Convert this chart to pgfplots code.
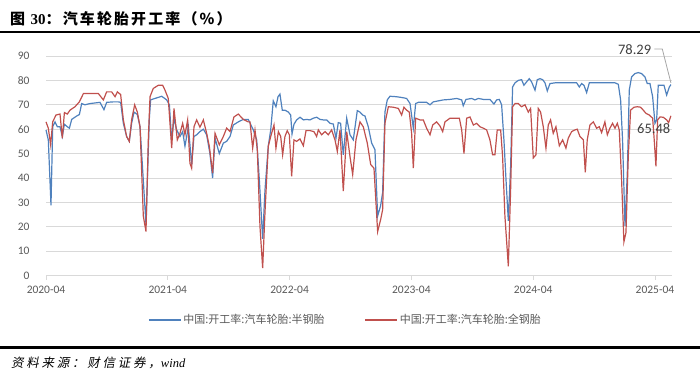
\documentclass[border=0pt]{standalone}
\usepackage{pgfplots}
\pgfplotsset{compat=1.18}
\usepackage{pgfplotstable}
\usepackage{fontspec}
\setmainfont{Carlito}
\newfontfamily\cjk{Noto Sans CJK SC}
\newfontfamily\cjktitle[LetterSpace=14]{Noto Sans CJK SC}
\newfontfamily\cjkit[FakeSlant=0.2,LetterSpace=22]{Noto Sans CJK SC}
\newfontfamily\serif{Liberation Serif}
\definecolor{sblue}{HTML}{4F81BD}
\definecolor{sred}{HTML}{C0504D}
\definecolor{gridc}{HTML}{D9D9D9}
\definecolor{tickc}{HTML}{595959}
\definecolor{labc}{HTML}{404040}

\pgfplotstableread{
x y
0.000 59.7
0.019 55.6
0.041 28.8
0.055 61
0.074 63
0.093 61
0.115 61
0.134 57
0.151 62
0.175 61
0.192 60.4
0.211 64
0.252 65.4
0.274 66
0.293 70.5
0.320 70
0.361 70.5
0.443 71
0.476 68
0.498 71
0.553 71.2
0.594 71.2
0.613 71
0.635 62.4
0.662 57
0.684 55
0.703 62.4
0.723 67
0.750 66
0.772 61
0.799 39
0.821 21
0.848 64
0.859 72
0.895 72.6
0.950 73.5
0.991 72
1.013 70
1.032 55.6
1.051 64.4
1.073 59.7
1.100 57
1.122 59
1.141 53
1.169 61
1.196 45.5
1.215 57
1.237 57.7
1.264 59
1.292 60
1.319 57.7
1.346 50
1.368 40
1.388 56.3
1.423 50
1.456 54.3
1.483 55
1.511 57
1.538 61.7
1.579 63
1.620 64
1.661 64
1.702 59.7
1.730 55.6
1.752 39
1.779 15
1.798 35
1.825 53
1.845 59.7
1.866 71.6
1.888 69.2
1.905 73.3
1.921 74.4
1.940 67.8
1.962 67.8
1.990 67
2.009 65.8
2.020 58
2.036 62
2.058 63.8
2.086 64.9
2.113 63.8
2.140 64
2.168 63.8
2.195 64.5
2.223 64.9
2.250 64
2.277 63.8
2.305 63.8
2.332 62.4
2.359 62.1
2.381 56.3
2.400 62.7
2.419 62.4
2.441 49.5
2.469 64.5
2.496 57.7
2.523 55.6
2.556 67.6
2.578 67
2.600 65.8
2.619 65.4
2.646 61
2.674 54.3
2.701 51.6
2.723 24.4
2.747 28.5
2.764 34
2.783 67
2.802 72
2.824 73.5
2.879 73.3
2.920 73
2.961 72.6
2.989 70.5
3.016 60.4
3.035 70.5
3.057 71
3.098 71
3.125 71
3.153 70
3.180 71.2
3.221 71.6
3.262 72
3.317 72.2
3.372 72.6
3.413 72
3.426 69.6
3.448 72.2
3.495 72.6
3.522 72
3.550 72.6
3.591 72.2
3.645 72.2
3.678 70.3
3.700 72
3.722 72.2
3.741 70
3.760 55.6
3.777 39.3
3.796 22.4
3.815 44.8
3.831 77.3
3.851 79
3.878 80
3.905 80.3
3.924 78
3.946 79.4
3.968 80.7
3.987 79.4
4.015 76
4.034 80.3
4.056 80.7
4.078 80.3
4.097 79
4.116 75.7
4.138 78.7
4.179 79
4.234 79
4.288 79
4.357 79
4.379 77.3
4.398 78.7
4.417 78
4.439 75
4.461 79
4.507 79
4.562 79
4.630 79
4.672 79
4.699 78.4
4.718 72
4.734 55.6
4.754 20.4
4.773 42
4.789 76
4.808 81.4
4.836 82.8
4.863 83.2
4.890 82.8
4.918 81.4
4.937 78.7
4.959 78.7
4.981 73.3
5.000 62.4
5.014 63.8
5.027 78
5.055 78
5.074 78
5.096 74
5.118 77.3
5.131 78.29
}\semisteel

\pgfplotstableread{
x y
0.000 63
0.019 60.4
0.038 53.6
0.055 63
0.082 65.8
0.115 66.2
0.134 56.3
0.151 66.8
0.175 66.2
0.197 67.8
0.238 69.2
0.274 71.2
0.307 74.6
0.361 74.6
0.430 74.6
0.471 72
0.498 75.3
0.539 75.3
0.567 73.3
0.586 75.3
0.613 74.2
0.635 63.8
0.662 57
0.684 55
0.703 63.8
0.728 70
0.750 67
0.772 61
0.799 24.4
0.821 18
0.840 55.6
0.854 73.3
0.881 76.7
0.922 78
0.958 78
0.977 76
1.004 72.6
1.032 52.2
1.051 68.5
1.078 55.6
1.100 58.3
1.122 62.4
1.141 57.7
1.163 63.8
1.182 46
1.196 44
1.215 61
1.237 63.8
1.264 60.8
1.292 63.8
1.319 58.3
1.341 53
1.368 42
1.388 58.3
1.423 53.6
1.456 57
1.483 60.4
1.511 59
1.543 65
1.579 66.2
1.620 64
1.661 63
1.675 63
1.697 52.2
1.716 59.7
1.735 51.6
1.757 20
1.779 3
1.798 25.8
1.825 53
1.845 57
1.872 61.7
1.888 52.2
1.908 59
1.927 57
1.943 49.5
1.962 57
1.981 59.4
1.998 57.7
2.017 40.7
2.036 55.6
2.058 55
2.085 56
2.113 53.2
2.135 59.4
2.168 59.4
2.200 59
2.222 57
2.236 59.7
2.263 57.7
2.291 59
2.318 57.7
2.345 59.7
2.373 55.6
2.392 50.9
2.414 59.7
2.441 34.6
2.469 59
2.496 48.8
2.518 41.4
2.545 55.6
2.578 63
2.605 61
2.638 54.3
2.666 45.5
2.693 44
2.723 18
2.748 23
2.764 27
2.783 62.4
2.811 69.2
2.852 69
2.893 68.5
2.920 65.8
2.939 69
2.961 67.8
2.983 67
3.002 58.3
3.016 44
3.035 64.5
3.071 63.8
3.098 63.8
3.125 60.4
3.153 57.7
3.175 61.7
3.207 63
3.235 61.3
3.257 59
3.276 63
3.317 64.5
3.358 64.5
3.394 64.5
3.413 59.7
3.432 50
3.454 64.5
3.481 65
3.509 61.7
3.536 62.4
3.563 61
3.591 60.4
3.618 59.7
3.645 55.6
3.667 49.5
3.686 49.5
3.705 59.7
3.733 59.7
3.749 48.8
3.768 24.4
3.796 3.8
3.815 35.3
3.831 69.2
3.851 70.5
3.878 70.5
3.905 69.2
3.933 70
3.960 67
3.979 68.5
4.001 48.2
4.023 49.5
4.042 68.5
4.061 67
4.083 61
4.105 52.2
4.124 61.7
4.143 63.8
4.165 58.3
4.187 61
4.215 53.2
4.242 55.6
4.269 52.2
4.288 56.3
4.316 59
4.343 59.7
4.362 60
4.384 57
4.412 55.6
4.428 42.3
4.444 55.6
4.466 61.7
4.494 63
4.521 60.4
4.543 61
4.562 58.6
4.589 63
4.609 57.7
4.630 60.4
4.652 62.4
4.672 60.4
4.691 62.4
4.707 59.7
4.726 39.3
4.745 13.8
4.762 17.6
4.781 48.8
4.800 67.8
4.828 69
4.855 69.2
4.882 69
4.904 67.8
4.926 66.5
4.953 65.8
4.981 64.5
4.994 55.6
5.008 44.8
5.022 63.8
5.041 65
5.068 64.9
5.096 63.8
5.112 62.7
5.131 65.48
}\allsteel

\begin{document}
\begin{tikzpicture}
\path[use as bounding box] (0,0) rectangle (700pt,-383pt);
\begin{axis}[
  at={(46pt,-275.5pt)}, anchor=south west,
  scale only axis, width=626pt, height=219.5pt,
  xmin=0, xmax=5.14, ymin=0, ymax=90,
  clip=false,
  axis x line*=bottom, axis y line*=left,
  y axis line style={draw=none},
  x axis line style={draw=gridc, line width=0.8pt},
  ytick={0,10,...,90},
  xtick={0,1,2,3,4,5},
  xticklabels={2020-04,2021-04,2022-04,2023-04,2024-04,2025-04},
  ymajorgrids, major grid style={draw=gridc, line width=0.8pt},
  ytick style={draw=none},
  xtick style={draw=gridc, line width=0.8pt},
  tick align=outside, major tick length=4pt,
  /pgf/number format/assume math mode=true,
  ticklabel style={font=\fontsize{11.5}{13}\selectfont, text=tickc},
  yticklabel style={xshift=-9pt},
  xticklabel style={yshift=-3pt},
  legend columns=2,
  legend style={at={(axis description cs:0.163,-0.203)}, anchor=west, draw=none, fill=none,
    font=\fontsize{11}{13}\selectfont\cjk, text=tickc, inner sep=0pt,
    /tikz/every even column/.append style={column sep=38pt}},
  legend image code/.code={\draw[#1] (0pt,0pt) -- (32pt,0pt);},
  legend cell align=left,
]
\addplot[sblue, line width=1.2pt] table[x=x,y=y]{\semisteel};
\addlegendentry{中国:开工率:汽车轮胎:半钢胎}
\addplot[sred, line width=1.2pt] table[x=x,y=y]{\allsteel};
\addlegendentry{中国:开工率:汽车轮胎:全钢胎}
\draw[color=gray!70, line width=0.8pt] (axis cs:4.995,92.9) -- (axis cs:5.06,92.9) -- (axis cs:5.131,79);
\node[anchor=east, inner sep=0pt, font=\fontsize{14.5}{16}\selectfont, text=labc] at (axis cs:4.97,92.6) {78.29};
\node[inner sep=0pt, font=\fontsize{14.5}{16}\selectfont, text=labc] at (axis cs:4.99,60.4) {65.48};
\end{axis}
\node[anchor=west, inner sep=0pt] at (10pt,-19pt) {\fontsize{15}{17}\selectfont\cjktitle\bfseries 图 {\serif\bfseries 30}：汽车轮胎开工率（\%）};
\draw[line width=2.5pt] (0,-32pt) -- (700pt,-32pt);
\draw[line width=2.5pt] (0,-347.5pt) -- (700pt,-347.5pt);
\node[anchor=west, inner sep=0pt] at (11pt,-363pt) {\fontsize{12.5}{14}\selectfont\cjkit 资料来源：财信证券，{\serif\itshape wind}};
\end{tikzpicture}
\end{document}
